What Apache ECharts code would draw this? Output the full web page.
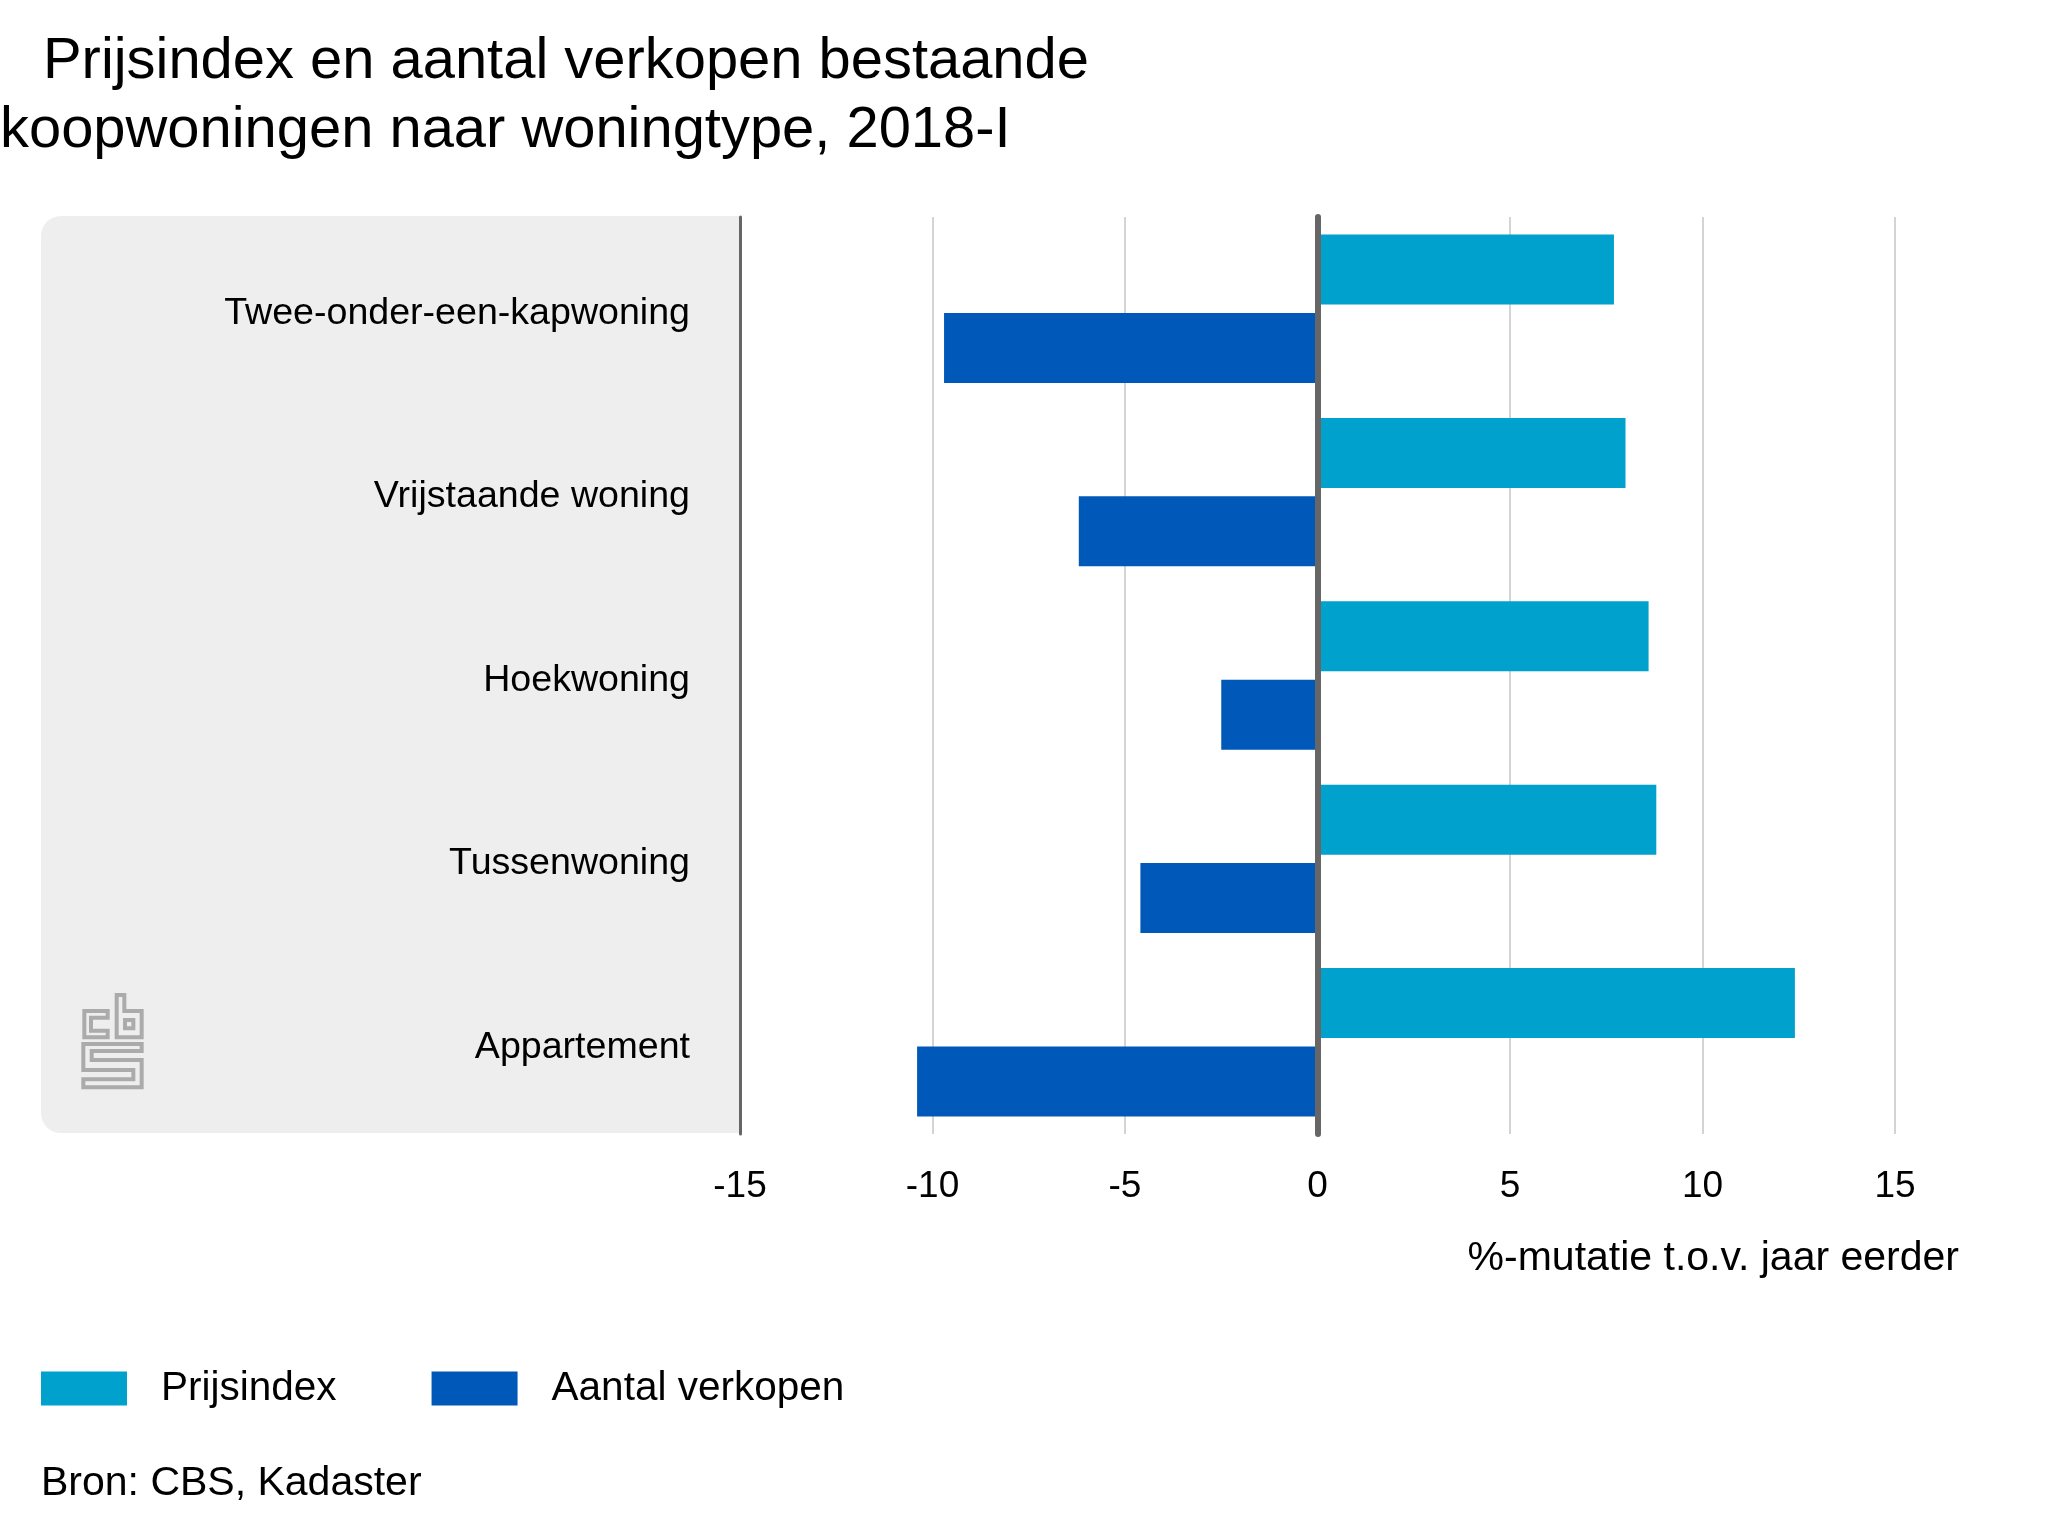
<!DOCTYPE html>
<html>
<head>
<meta charset="utf-8">
<title>Prijsindex en aantal verkopen</title>
<script src="https://cdn.jsdelivr.net/npm/echarts@6/dist/echarts.min.js"></script>
<style>
  html, body { margin: 0; padding: 0; background: #fff; }
  #chart { width: 2048px; height: 1536px; }
</style>
</head>
<body>
<div id="chart"></div>
<script>
// Chart data
const categories = ['Twee-onder-een-kapwoning', 'Vrijstaande woning', 'Hoekwoning', 'Tussenwoning', 'Appartement'];
const prijsindex = [7.7, 8.0, 8.6, 8.8, 12.4];
const aantalVerkopen = [-9.7, -6.2, -2.5, -4.6, -10.4];
const seriesNames = ['Prijsindex', 'Aantal verkopen'];
const titleLines = ['Prijsindex en aantal verkopen bestaande', 'koopwoningen naar woningtype, 2018-I'];

const FONT = '"Liberation Sans", Arial, sans-serif';
const TEXT = '#000';

// CBS logo outlines, traced in zoomed (3x) pixels
const logoShapes = [
    [[143, 93], [73, 93], [73, 172], [143, 172], [143, 152], [93, 152], [93, 113], [143, 113]],
    [[170, 172], [170, 45], [193, 45], [193, 93], [245, 93], [245, 172]],
    [[195, 120], [220, 120], [220, 145], [195, 145]],
    [[70, 192], [245, 192], [245, 213], [95, 213], [95, 240], [245, 240], [245, 322], [70, 322], [70, 298], [220, 298], [220, 270], [70, 270]]
];

const chart = echarts.init(document.getElementById('chart'), null, { renderer: 'canvas' });

chart.setOption({
    animation: false,
    backgroundColor: '#fff',
    color: ['#00A1CD', '#0058B8'],
    textStyle: { fontFamily: FONT },
    title: [
        { text: titleLines[0], left: 38, top: 28, textStyle: { fontFamily: FONT, fontSize: 57.9, fontWeight: 'normal', color: TEXT } },
        { text: titleLines[1], left: -5, top: 97, textStyle: { fontFamily: FONT, fontSize: 57.9, fontWeight: 'normal', color: TEXT } },
        { text: 'Bron: CBS, Kadaster', left: 36, top: 1458, textStyle: { fontFamily: FONT, fontSize: 41, fontWeight: 'normal', color: TEXT } }
    ],
    legend: {
        data: seriesNames,
        left: 36,
        top: 1363,
        itemWidth: 86,
        itemHeight: 34,
        itemGap: 95,
        icon: 'rect',
        textStyle: { fontFamily: FONT, fontSize: 40.5, color: TEXT, padding: [0, 0, 0, 29] }
    },
    grid: { left: 740, right: 153, top: 217, bottom: 402, containLabel: false },
    xAxis: {
        type: 'value',
        min: -15,
        max: 15,
        interval: 5,
        name: '%-mutatie t.o.v. jaar eerder',
        nameLocation: 'end',
        nameGap: 64,
        nameMoveOverlap: false,
        nameTextStyle: { fontFamily: FONT, fontSize: 41, color: TEXT, align: 'right', verticalAlign: 'top', padding: [104, 0, 0, 0] },
        axisLine: { show: false },
        axisTick: { show: false },
        axisLabel: { fontFamily: FONT, fontSize: 37, color: TEXT, margin: 34, showMinLabel: true, showMaxLabel: true },
        splitLine: { show: true, lineStyle: { color: '#d4d4d4', width: 2 } }
    },
    yAxis: [
        {
            type: 'category',
            data: categories,
            inverse: true,
            position: 'left',
            axisLine: { show: true, onZero: false, lineStyle: { color: '#666', width: 3 } },
            axisTick: { show: false },
            // top-aligned with a short line box, drops the labels a little below band centre
            axisLabel: { fontFamily: FONT, fontSize: 37.6, color: TEXT, margin: 50, verticalAlign: 'top', lineHeight: 10 },
            z: 5
        },
        {
            // zero line
            type: 'category',
            data: categories,
            inverse: true,
            axisLine: { show: true, onZero: true, lineStyle: { color: '#666', width: 6 } },
            axisTick: { show: false },
            axisLabel: { show: false },
            z: 5
        }
    ],
    series: [
        { name: seriesNames[0], type: 'bar', data: prijsindex, yAxisIndex: 0, barWidth: 70, barGap: '12%', silent: true },
        { name: seriesNames[1], type: 'bar', data: aantalVerkopen, yAxisIndex: 0, barWidth: 70, barGap: '12%', silent: true }
    ],
    graphic: [
        {
            type: 'rect',
            z: -10,
            shape: { x: 41, y: 216, width: 698, height: 917, r: [20, 0, 0, 20] },
            style: { fill: '#EEEEEE' }
        },
        {
            type: 'group',
            x: 60,
            y: 980,
            scaleX: 1 / 3,
            scaleY: 1 / 3,
            children: logoShapes.map(points => ({
                type: 'polygon',
                shape: { points: points },
                style: { fill: 'none', stroke: '#ABABAB', lineWidth: 12 }
            }))
        }
    ]
});
</script>
</body>
</html>
